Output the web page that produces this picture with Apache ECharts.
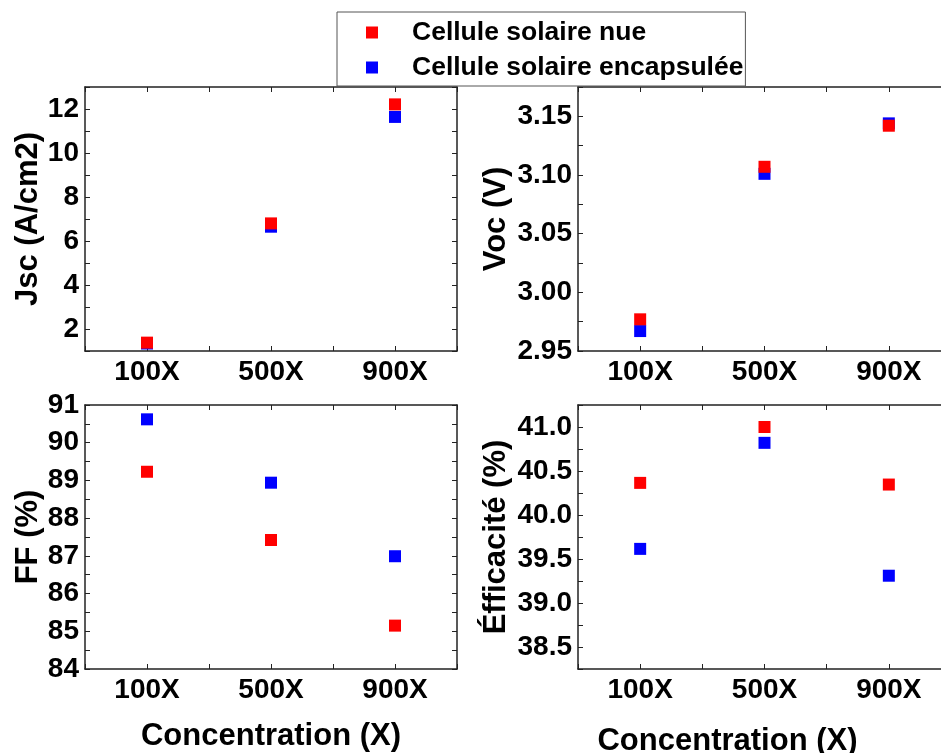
<!DOCTYPE html>
<html>
<head>
<meta charset="utf-8">
<script src="https://cdn.jsdelivr.net/npm/echarts@6/dist/echarts.min.js"></script>
<style>
html,body{margin:0;padding:0;background:#fff;overflow:hidden;width:941px;height:753px;}
#chart{width:960px;height:753px;}
</style>
</head>
<body>
<div id="chart"></div>
<script>
// ---- data ----
const categories = ['100X', '500X', '900X'];
const seriesNames = ['Cellule solaire nue', 'Cellule solaire encapsulée'];

const jscNue = [1.38, 6.80, 12.21];
const jscEnc = [1.34, 6.65, 11.64];
const vocNue = [2.977, 3.107, 3.142];
const vocEnc = [2.967, 3.101, 3.144];
const ffNue = [89.23, 87.42, 85.15];
const ffEnc = [90.62, 88.94, 86.99];
const effNue = [40.365, 41.00, 40.346];
const effEnc = [39.615, 40.82, 39.31];

const yNames = ['Jsc (A/cm2)', 'Voc (V)', 'FF (%)', 'Éfficacité (%)'];
const xName = 'Concentration (X)';
const yMin = [1, 2.95, 84, 38.25];
const yMax = [13, 3.175, 91, 41.25];
const yTickStep = [1, 0.025, 0.5, 0.25];
const yLabelStep = [2, 0.05, 1, 0.5];
const yDecimals = [0, 2, 0, 1];

// ---- layout ----
const panelData = [[jscNue, jscEnc], [vocNue, vocEnc], [ffNue, ffEnc], [effNue, effEnc]];
const grids = [
  {left: 85, top: 87, width: 372, height: 264},
  {left: 578, top: 87, width: 373, height: 264},
  {left: 85, top: 405, width: 372, height: 264},
  {left: 578, top: 405, width: 373, height: 264}
].map(g => Object.assign(g, {outerBoundsMode: 'none', containLabel: false, show: false}));
const yNameGap = [41, 66, 41, 66];
const colors = ['#ff0000', '#0000ff'];
const axisColor = '#222';
const fontFamily = '"Liberation Sans", Arial, sans-serif';

const xAxes = [], yAxes = [], series = [];
grids.forEach((g, i) => {
  const showXName = i >= 2;
  const baseX = {
    gridIndex: i, type: 'value', min: -0.5, max: 2.5, interval: 0.5,
    axisLine: {show: true, onZero: false, lineStyle: {color: axisColor, width: 1.5}},
    axisTick: {show: true, inside: true, length: 5, lineStyle: {color: axisColor, width: 1}},
    splitLine: {show: false}
  };
  const xMainIndex = xAxes.length;
  xAxes.push(Object.assign({}, baseX, {
    position: 'bottom',
    name: showXName ? xName : '',
    nameLocation: 'middle',
    nameGap: i === 2 ? 52 : 57,
    nameTextStyle: {fontFamily, fontWeight: 'bold', fontSize: 31, color: '#000',
      padding: i === 3 ? [0, 74, 0, 0] : 0},
    axisLabel: {
      show: true, margin: 7, fontFamily, fontWeight: 'bold', fontSize: 28, color: '#000',
      showMinLabel: true, showMaxLabel: true,
      formatter: v => {
        const k = Math.round(v);
        return Math.abs(v - k) < 1e-6 && k >= 0 && k < categories.length ? categories[k] : '';
      }
    }
  }));
  xAxes.push(Object.assign({}, baseX, {position: 'top', axisLabel: {show: false}}));

  const baseY = {
    gridIndex: i, type: 'value', min: yMin[i], max: yMax[i], interval: yTickStep[i],
    axisLine: {show: true, onZero: false, lineStyle: {color: axisColor, width: 1.5}},
    axisTick: {show: true, inside: true, length: 5, lineStyle: {color: axisColor, width: 1}},
    splitLine: {show: false}
  };
  const step = yLabelStep[i], dec = yDecimals[i];
  const yMainIndex = yAxes.length;
  yAxes.push(Object.assign({}, baseY, {
    position: 'left',
    name: yNames[i],
    nameLocation: 'middle',
    nameGap: yNameGap[i],
    nameRotate: 90,
    nameTextStyle: {fontFamily, fontWeight: 'bold', fontSize: 31, color: '#000'},
    axisLabel: {
      show: true, margin: 6, fontFamily, fontWeight: 'bold', fontSize: 28, color: '#000',
      showMinLabel: true, showMaxLabel: true,
      formatter: v => {
        const r = v / step;
        return Math.abs(r - Math.round(r)) < 1e-6 ? v.toFixed(dec) : '';
      }
    }
  }));
  // right-hand frame only for the left panels: the right panels run off the picture's edge
  if (i % 2 === 0) {
    yAxes.push(Object.assign({}, baseY, {position: 'right', axisLabel: {show: false}}));
  }

  // blue drawn first, red on top
  [1, 0].forEach(s => {
    series.push({
      name: seriesNames[s],
      type: 'scatter',
      xAxisIndex: xMainIndex,
      yAxisIndex: yMainIndex,
      symbol: 'rect',
      symbolSize: 12,
      z: s === 0 ? 4 : 3,
      itemStyle: {color: colors[s], opacity: 1},
      emphasis: {disabled: true},
      data: panelData[i][s].map((v, k) => [k, v])
    });
  });
});

const chart = echarts.init(document.getElementById('chart'), null, {renderer: 'canvas'});
chart.setOption({
  animation: false,
  backgroundColor: '#fff',
  legend: {
    data: seriesNames,
    orient: 'vertical',
    left: 337,
    top: 12,
    itemWidth: 12,
    itemHeight: 12,
    itemGap: 8,
    icon: 'rect',
    padding: [7, 2, 5, 29],
    borderColor: '#555',
    borderWidth: 1,
    textStyle: {fontFamily, fontWeight: 'bold', fontSize: 26.5, color: '#000', lineHeight: 26,
      padding: [0, 0, 0, 29]}
  },
  grid: grids,
  xAxis: xAxes,
  yAxis: yAxes,
  series: series
});
</script>
</body>
</html>
